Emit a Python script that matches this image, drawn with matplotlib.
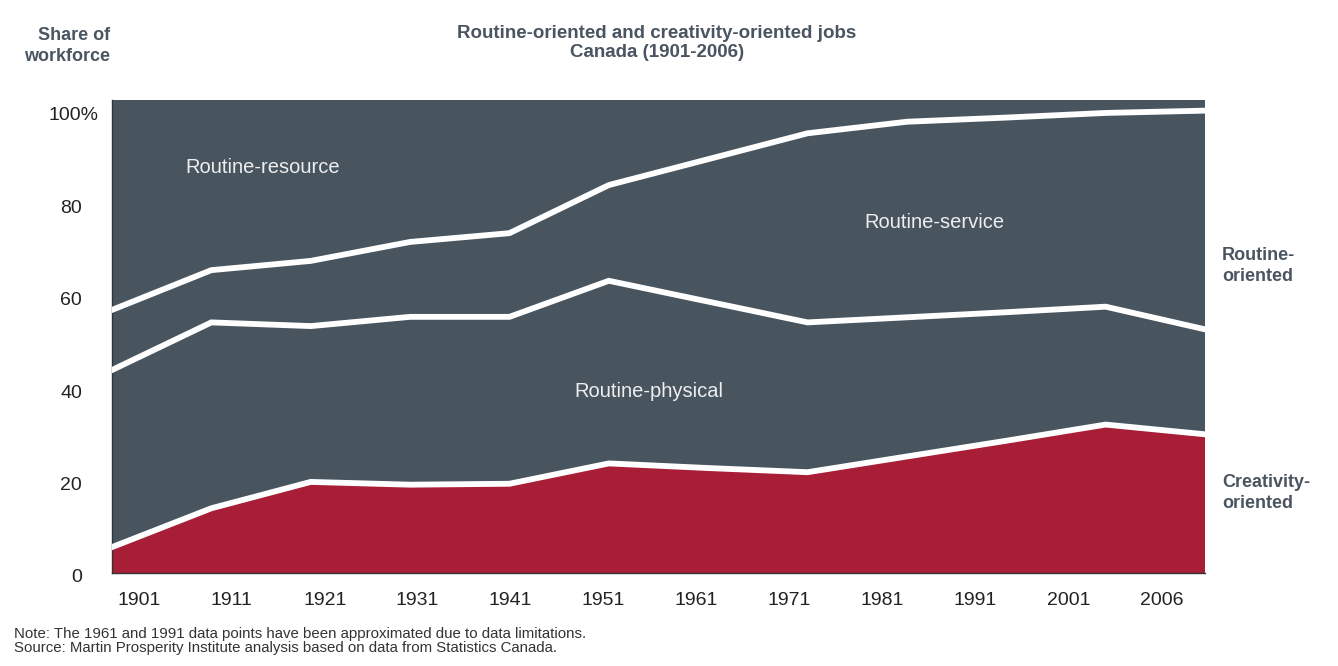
import numpy as np
import matplotlib
matplotlib.use("Agg")
import matplotlib.pyplot as plt
from matplotlib.transforms import ScaledTranslation

plt.rcParams['font.family'] = ['Liberation Sans', 'DejaVu Sans']

# data: share of workforce (%) by job type
years = ['1901', '1911', '1921', '1931', '1941', '1951',
         '1961', '1971', '1981', '1991', '2001', '2006']
creativity = [5.6, 14.0, 19.7, 19.1, 19.3, 23.7, 22.7, 21.8, 25.2, 28.6, 32.1, 30.0]
physical = [38.3, 40.2, 33.7, 36.3, 36.1, 39.5, 36.0, 32.4, 30.1, 27.8, 25.5, 22.7]
service = [13.0, 11.3, 14.1, 16.2, 18.1, 20.7, 30.8, 40.9, 42.3, 42.1, 41.9, 47.3]
resource = [43.1, 34.5, 32.5, 28.4, 26.5, 16.1, 10.5, 4.9, 2.4, 1.5, 0.5, 0.0]
yticks = [0, 20, 40, 60, 80, 100]
ytick_labels = ['0', '20', '40', '60', '80', '100%']

dark = '#48555f'
red = '#a91e37'
txt = '#4a5561'

x = np.arange(len(years))
c1 = np.array(creativity)
c2 = c1 + np.array(physical)
c3 = c2 + np.array(service)

fig = plt.figure(figsize=(13.38, 6.66), dpi=100)
ax = fig.add_axes([112/1338, 1-573/666, (1205-112)/1338, (573-100)/666])
ax.set_facecolor(dark)

ax.stackplot(x, creativity, physical, service, resource,
             colors=[red, dark, dark, dark], linewidth=0)
for b in (c1, c2, c3):
    ax.plot(x, b, color='white', lw=4.2, solid_joinstyle='miter', zorder=3)

ax.set_xlim(0, len(years) - 1)
ax.set_ylim(0, 102.3)

ax.set_xticks(np.linspace(0.27, 10.56, len(years)))
ax.set_xticklabels(years)
ax.set_yticks(yticks)
ax.set_yticklabels(ytick_labels)
ax.tick_params(axis='both', length=0, labelsize=14, colors='#222222')
ax.tick_params(axis='x', pad=14)
ax.tick_params(axis='y', pad=21.5)
for lab in ax.get_yticklabels():
    dx = 16/100 if lab.get_text().endswith('%') else 0
    lab.set_transform(lab.get_transform() + ScaledTranslation(dx, -3/100, fig.dpi_scale_trans))

for s in ['top', 'right']:
    ax.spines[s].set_visible(False)
for s in ['left', 'bottom']:
    ax.spines[s].set_color('#333333')
    ax.spines[s].set_linewidth(1.0)

# labels inside areas
ax.text(1.52, 87.8, 'Routine-resource', color='#eeeeee', fontsize=14.5, ha='center', va='center')
ax.text(8.28, 75.7, 'Routine-service', color='#eeeeee', fontsize=14.5, ha='center', va='center')
ax.text(5.40, 39.3, 'Routine-physical', color='#eeeeee', fontsize=14.5, ha='center', va='center')

# titles and side labels
fig.text(657/1338, 1-43/666, 'Routine-oriented and creativity-oriented jobs\nCanada (1901-2006)',
         ha='center', va='center', fontsize=13.5, fontweight='bold', color=txt, linespacing=1.1)
fig.text(110/1338, 1-46/666, 'Share of\nworkforce', ha='right', va='center',
         fontsize=13, fontweight='bold', color=txt, linespacing=1.25)
fig.text(1222/1338, 1-266/666, 'Routine-\noriented', ha='left', va='center',
         fontsize=13, fontweight='bold', color=txt, linespacing=1.25)
fig.text(1222/1338, 1-493/666, 'Creativity-\noriented', ha='left', va='center',
         fontsize=13, fontweight='bold', color=txt, linespacing=1.25)

fig.text(14/1338, 1-641/666,
         'Note: The 1961 and 1991 data points have been approximated due to data limitations.\n'
         'Source: Martin Prosperity Institute analysis based on data from Statistics Canada.',
         ha='left', va='center', fontsize=10.8, color='#333333', linespacing=1.05)

fig.savefig('out.png', dpi=100)
